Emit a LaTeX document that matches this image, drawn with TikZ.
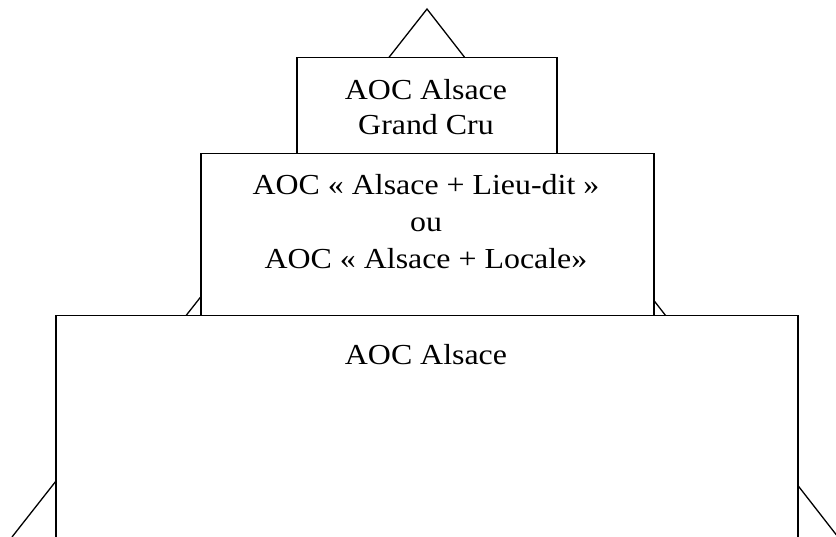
\documentclass[tikz,border=0pt]{standalone}
\usepackage{fontspec}
\setmainfont{Liberation Serif}[FakeStretch=1.1]
\usetikzlibrary{positioning, calc}

\begin{document}
\begin{tikzpicture}[
        x=1pt, y=-1pt,
        every node/.style={font=\fontsize{29}{36}\selectfont},
        tier/.style={
            rectangle, draw=black, line width=1.5pt, fill=white,
            anchor=north west, inner sep=0pt
        },
        txt/.style={align=center, inner sep=0pt},
        leg/.style={draw=black, line width=1.3pt}
        ]

    % --- cadre ---
        \useasboundingbox (0,0) rectangle (836,537);
        \clip (0,0) rectangle (836,537);

    % --- pyramide, derrière les boîtes ---
        \coordinate (sommet) at (427,9);
        \coordinate (pied gauche) at (12,537);
        \coordinate (pied droit) at (838,537);
        \draw[leg] (pied gauche) -- (sommet) -- (pied droit);

    % --- Niveau 1: AOC Alsace ---
        \node[tier, minimum width=742pt, minimum height=260pt] (base) at (55,315) {};
        \node[txt] (base txt) at (426,355) {AOC Alsace};

    % --- Niveau 2: lieu-dit / locale ---
        \node[tier, minimum width=453pt, minimum height=162pt] (locale) at (200,153) {};
        \node[txt, font=\fontsize{29}{37}\selectfont] (locale txt) at (426,222)
            {AOC « Alsace + Lieu-dit  »\\ ou\\ AOC « Alsace + Locale»};

    % --- Niveau 3: grand cru ---
        \node[tier, minimum width=260pt, minimum height=96pt] (grandcru) at (296,57) {};
        \node[txt, font=\fontsize{29}{35}\selectfont] (grandcru txt) at (426,107)
            {AOC Alsace\\ Grand Cru};

\end{tikzpicture}
\end{document}
